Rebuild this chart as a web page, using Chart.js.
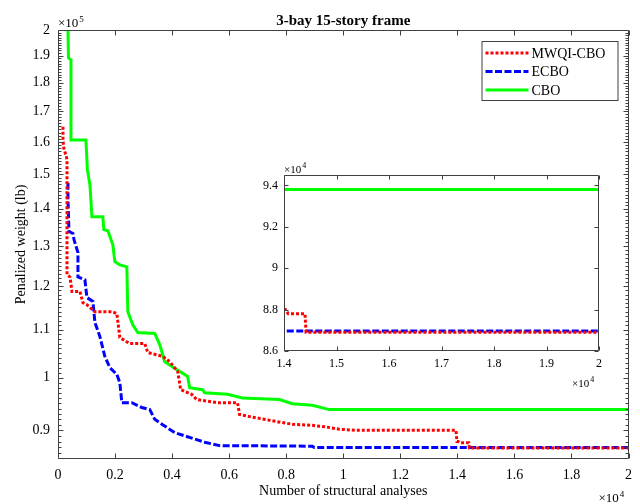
<!DOCTYPE html>
<html>
<head>
<meta charset="utf-8">
<script src="https://cdn.jsdelivr.net/npm/chart.js@4"></script>
<style>
  body { margin: 0; background: #fff; }
  #wrap { position: relative; width: 640px; height: 504px; }
  #inset { position: absolute; left: 240px; top: 150px; }
</style>
</head>
<body>
<div id="wrap">
  <canvas id="main" width="640" height="504"></canvas>
  <canvas id="inset" width="400" height="240"></canvas>
</div>
<script>
'use strict';

// series (x = structural analyses, y = penalized weight in lb)
const mwqiX = [175, 175, 210, 280, 315, 315, 420, 490, 769, 874, 1014, 1294, 1923, 2063, 2168, 2517, 3042, 3147, 3671, 3916,
               4196, 4301, 4685, 4860, 5594, 6294, 6364, 6713, 7657, 8217, 8916, 9406, 9860, 10455, 13951, 13986, 14030, 14080, 14400, 14420, 20000];
const mwqiY = [164900, 160600, 157500, 155900, 154300, 122800, 122200, 118700, 118700, 116100, 115600, 114000, 114000, 113600, 108300, 107000, 107000, 105100, 104300, 103200,
               101200, 97600, 96700, 95700, 95100, 95100, 92900, 92500, 91600, 91100, 90900, 90600, 90200, 90000, 90000, 88000, 88000, 87800, 87800, 86900, 86900];

const ecboX = [350, 350, 385, 524, 559, 699, 699, 944, 1014, 1224, 1294, 1469, 1643, 1818, 2063, 2168, 2238, 2587, 2937, 3217,
               3392, 3671, 4091, 4510, 5140, 5664, 8916, 8986, 20000];
const ecboY = [147500, 142600, 133800, 133300, 131700, 128300, 122200, 121500, 117300, 116400, 111600, 108500, 104300, 102000, 100600, 99000, 95100, 95100, 94200, 93800,
               92000, 91000, 89600, 88900, 87900, 87300, 87200, 86960, 86960];

const cboX = [350, 367, 455, 455, 979, 1031, 1119, 1189, 1573, 1608, 1748, 1923, 1993, 2168, 2413, 2448, 2622, 2797, 3392, 3566,
              3741, 4161, 4545, 4615, 5070, 5140, 5944, 6469, 7762, 8217, 8916, 9510, 20000];
const cboY = [200000, 189200, 188400, 160600, 160600, 151300, 146900, 137800, 137800, 134300, 134000, 130300, 126000, 125200, 124700, 114000, 111100, 109400, 109200, 106800,
              103200, 101600, 100200, 98000, 97600, 97000, 96700, 96000, 95700, 94900, 94600, 93800, 93800];

const seriesNames = ['MWQI-CBO', 'ECBO', 'CBO'];

// tick values
const xTicks = [0, 2000, 4000, 6000, 8000, 10000, 12000, 14000, 16000, 18000, 20000];
const yTicks = [90000, 100000, 110000, 120000, 130000, 140000, 150000, 160000, 170000, 180000, 190000, 200000];
const insetXTicks = [14000, 15000, 16000, 17000, 18000, 19000, 20000];
const insetYTicks = [86000, 88000, 90000, 92000, 94000];

const SERIF = '"Liberation Serif", "Times New Roman", serif';

function pts(xs, ys) {
    return xs.map((x, i) => ({ x: x, y: ys[i] }));
}

function makeDatasets() {
    return [
        { label: seriesNames[0], data: pts(mwqiX, mwqiY), borderColor: '#ff0000', borderWidth: 3, borderDash: [3, 2] },
        { label: seriesNames[1], data: pts(ecboX, ecboY), borderColor: '#0000ff', borderWidth: 3, borderDash: [7, 2.5] },
        { label: seriesNames[2], data: pts(cboX, cboY), borderColor: '#00ff00', borderWidth: 3 },
    ].map(d => Object.assign(d, { pointRadius: 0, fill: false, tension: 0 }));
}

function fmt(div) {
    return v => Number((v / div).toFixed(2)).toString();
}

function sciLabel(ctx, x, y, exp, size) {
    ctx.font = size + 'px ' + SERIF;
    ctx.textAlign = 'left';
    ctx.textBaseline = 'alphabetic';
    ctx.fillText('\u00d710', x, y);
    const w = ctx.measureText('\u00d710').width;
    ctx.font = Math.round(size * 0.7) + 'px ' + SERIF;
    ctx.fillText(exp, x + w + 1, y - size * 0.42);
}

// matlab-like box with inward ticks, plus extra text
const frame = {
    id: 'frame',
    afterDatasetsDraw(chart, args, o) {
        const { ctx, chartArea: a } = chart;
        const xs = chart.scales.x, ys = chart.scales.y;
        const L = Math.round(a.left) + 0.5, R = Math.round(a.right) - 0.5;
        const T = Math.round(a.top) + 0.5, B = Math.round(a.bottom) - 0.5;
        ctx.save();
        ctx.strokeStyle = '#404040';
        ctx.lineWidth = 1;
        ctx.beginPath();
        ctx.rect(L, T, R - L, B - T);
        xs.ticks.forEach(t => {
            const p = Math.round(xs.getPixelForValue(t.value)) + 0.5;
            ctx.moveTo(p, B); ctx.lineTo(p, B - o.len);
            ctx.moveTo(p, T); ctx.lineTo(p, T + o.len);
        });
        ys.ticks.forEach(t => {
            const p = Math.round(ys.getPixelForValue(t.value)) + 0.5;
            ctx.moveTo(L, p); ctx.lineTo(L + o.len, p);
            ctx.moveTo(R, p); ctx.lineTo(R - o.len, p);
        });
        (o.minorY || []).forEach(v => {
            const p = Math.round(ys.getPixelForValue(v)) + 0.5;
            ctx.moveTo(L, p); ctx.lineTo(L + 3, p);
            ctx.moveTo(R, p); ctx.lineTo(R - 3, p);
        });
        ctx.stroke();
        ctx.restore();
    },
    afterDraw(chart, args, o) {
        const { ctx, chartArea: a } = chart;
        ctx.save();
        ctx.fillStyle = '#000';
        if (o.title) {
            ctx.font = 'bold 15px ' + SERIF;
            ctx.textAlign = 'center';
            ctx.textBaseline = 'alphabetic';
            ctx.fillText(o.title, (a.left + a.right) / 2, a.top - 5);
        }
        sciLabel(ctx, a.left, a.top - o.expGap, o.yExp, o.expSize);
        sciLabel(ctx, a.right - o.xExpShift, a.bottom + o.xExpDrop, o.xExp, o.expSize);

        if (o.legend) {
            const bx = a.right - 147, by = a.top + 11, bw = 136, bh = 59;
            ctx.fillStyle = '#fff';
            ctx.fillRect(bx, by, bw, bh);
            ctx.strokeStyle = '#404040';
            ctx.lineWidth = 1;
            ctx.strokeRect(bx + 0.5, by + 0.5, bw, bh);
            chart.data.datasets.forEach((ds, i) => {
                const cy = by + 12 + i * 18.5;
                ctx.setLineDash(ds.borderDash || []);
                ctx.strokeStyle = ds.borderColor;
                ctx.lineWidth = ds.borderWidth;
                ctx.beginPath();
                ctx.moveTo(bx + 4, cy);
                ctx.lineTo(bx + 47, cy);
                ctx.stroke();
                ctx.setLineDash([]);
                ctx.fillStyle = '#000';
                ctx.font = '14px ' + SERIF;
                ctx.textAlign = 'left';
                ctx.textBaseline = 'middle';
                ctx.fillText(ds.label, bx + 50, cy + 1);
            });
        }
        ctx.restore();
    }
};

const minorY = [];
for (let v = 86000; v < 200000; v += 1000) minorY.push(v);

new Chart(document.getElementById('main').getContext('2d'), {
    type: 'line',
    data: { datasets: makeDatasets() },
    plugins: [frame],
    options: {
        responsive: false,
        animation: false,
        layout: { padding: { top: 30, right: 10, left: 0, bottom: 0 } },
        scales: {
            x: {
                type: 'linear', min: 0, max: 20000,
                afterBuildTicks: s => { s.ticks = xTicks.map(v => ({ value: v })); },
                afterFit: s => { s.height = 45; },
                grid: { display: false, drawTicks: false },
                border: { display: false },
                ticks: { callback: fmt(1e4), color: '#000', font: { family: SERIF, size: 14 }, padding: 8, maxRotation: 0, autoSkip: false },
                title: { display: true, text: 'Number of structural analyses', color: '#000', font: { family: SERIF, size: 14 }, padding: { bottom: 4 } }
            },
            y: {
                type: 'logarithmic', min: 85000, max: 200000,
                afterBuildTicks: s => { s.ticks = yTicks.map(v => ({ value: v })); },
                afterFit: s => { s.width = 58; },
                grid: { display: false, drawTicks: false },
                border: { display: false },
                ticks: { callback: fmt(1e5), color: '#000', font: { family: SERIF, size: 14 }, padding: 8, autoSkip: false },
                title: { display: true, text: 'Penalized weight (lb)', color: '#000', font: { family: SERIF, size: 14 }, padding: { top: 13 } }
            }
        },
        plugins: {
            legend: { display: false },
            tooltip: { enabled: false },
            frame: { len: 5, minorY: minorY, title: '3-bay 15-story frame', legend: true,
                     yExp: '5', xExp: '4', expSize: 13, expGap: 3, xExpShift: 30, xExpDrop: 43 }
        }
    }
});

new Chart(document.getElementById('inset').getContext('2d'), {
    type: 'line',
    data: { datasets: makeDatasets() },
    plugins: [frame],
    options: {
        responsive: false,
        animation: false,
        layout: { padding: { top: 25, right: 41, left: 0, bottom: 0 } },
        scales: {
            x: {
                type: 'linear', min: 14000, max: 20000,
                afterBuildTicks: s => { s.ticks = insetXTicks.map(v => ({ value: v })); },
                afterFit: s => { s.height = 39; },
                grid: { display: false, drawTicks: false },
                border: { display: false },
                ticks: { callback: fmt(1e4), color: '#000', font: { family: SERIF, size: 12 }, padding: 6, maxRotation: 0, autoSkip: false }
            },
            y: {
                type: 'linear', min: 86000, max: 94500,
                afterBuildTicks: s => { s.ticks = insetYTicks.map(v => ({ value: v })); },
                afterFit: s => { s.width = 44; },
                grid: { display: false, drawTicks: false },
                border: { display: false },
                ticks: { callback: fmt(1e4), color: '#000', font: { family: SERIF, size: 12 }, padding: 6, autoSkip: false }
            }
        },
        plugins: {
            legend: { display: false },
            tooltip: { enabled: false },
            frame: { len: 4, yExp: '4', xExp: '4', expSize: 11, expGap: 2, xExpShift: 27, xExpDrop: 36 }
        }
    }
});
</script>
</body>
</html>
